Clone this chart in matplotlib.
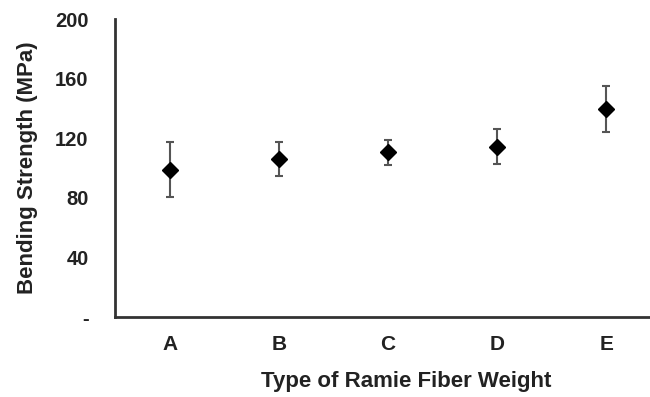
import matplotlib.pyplot as plt
import numpy as np

plt.rcParams['font.family'] = ['Liberation Sans', 'DejaVu Sans']

groups = ["A", "B", "C", "D", "E"]
strength = [98.5, 106, 110.5, 114, 139.5]
err_low = [18, 11.5, 8.5, 11.5, 15.5]
err_high = [19, 11.5, 8.5, 12, 15.5]

fig = plt.figure(figsize=(6.5, 3.97), dpi=100)
ax = fig.add_axes([0.177, 0.2015, 0.823, 0.7505])

x = np.arange(len(groups))
ax.errorbar(x, strength, yerr=[err_low, err_high], fmt='D', color='black',
            markersize=8, ecolor='#555555', elinewidth=1.5, capsize=3,
            capthick=1.5)

ax.set_xlim(-0.5, 4.4)
ax.set_ylim(0, 200)
ax.set_xticks(x)
ax.set_xticklabels(groups)
ax.set_yticks([0, 40, 80, 120, 160, 200])
ax.set_yticklabels(["-", "40", "80", "120", "160", "200"])

for s in ["top", "right"]:
    ax.spines[s].set_visible(False)
for s in ["left", "bottom"]:
    ax.spines[s].set_color('#333333')
    ax.spines[s].set_linewidth(2)

ax.tick_params(axis='y', length=0, pad=19, labelsize=14.5, labelcolor='#222222')
ax.tick_params(axis='x', length=0, pad=13, labelsize=15, labelcolor='#222222')
for lab in ax.get_xticklabels() + ax.get_yticklabels():
    lab.set_fontweight('bold')

ax.set_ylabel("Bending Strength (MPa)", fontsize=16, fontweight='bold',
              color='#222222', labelpad=12)
ax.set_xlabel("Type of Ramie Fiber Weight", fontsize=16, fontweight='bold',
              color='#222222', labelpad=12)
# title sits a bit right of the plot centre in the original
ax.xaxis.label.set_x(0.544)

fig.savefig("out.png", dpi=100)
